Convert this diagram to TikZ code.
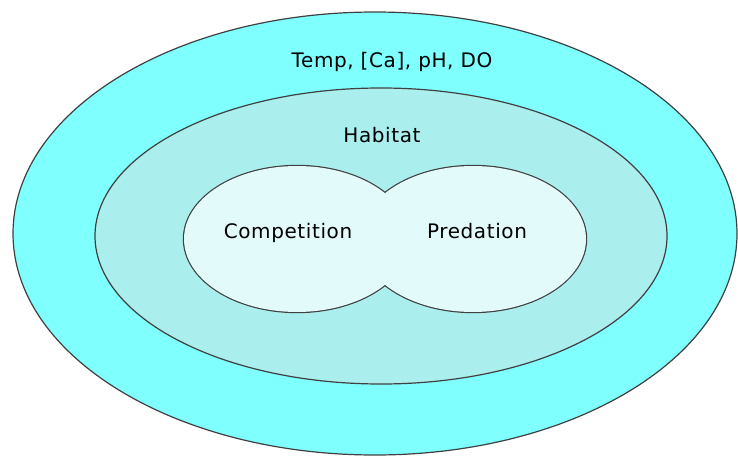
\documentclass[tikz,border=0pt]{standalone}
\usepackage{fontspec}
\setmainfont{DejaVu Sans}[LetterSpace=3]
\usetikzlibrary{positioning, shapes.geometric}
\definecolor{outercyan}{HTML}{80FFFF}
\definecolor{habitatcyan}{HTML}{AAEEEE}
\definecolor{innercyan}{HTML}{E2FAFA}
\definecolor{rimgray}{HTML}{404040}
\tikzset{
    ring_node/.style={ellipse, inner sep=0pt, draw=rimgray, line width=1.2pt},
    blob_half/.style={ellipse, inner sep=0pt, minimum width=226pt, minimum height=146pt},
    label_text/.style={anchor=base, inner sep=0pt, font=\fontsize{20}{22}\selectfont},
}
\begin{document}
\begin{tikzpicture}[x=1pt, y=-1pt]
      \useasboundingbox (0,0) rectangle (738,457);
      %%%%%%%%%%%%%%%
      % Rings       %
      %%%%%%%%%%%%%%%
      \node (climate) [ring_node, fill=outercyan, minimum width=724pt, minimum height=443pt]
          at (375,233.5) {};
      \node (habitat) [ring_node, fill=habitatcyan, minimum width=572pt, minimum height=296pt]
          at (381,236) {};

      % two halves, drawn thick and then filled over
      \node (compblob) [blob_half, draw=rimgray, line width=2.4pt] at (297,239) {};
      \node (predblob) [blob_half, draw=rimgray, line width=2.4pt] at (473,239) {};
      \node [blob_half, fill=innercyan] at (compblob.center) {};
      \node [blob_half, fill=innercyan] at (predblob.center) {};

      %%%%%%%%%%%%%%%
      % Labels      %
      %%%%%%%%%%%%%%%
      \node (climate_lbl) [label_text] at (392,68) {Temp, [Ca], pH, DO};
      \node (habitat_lbl) [label_text] at (382,143) {Habitat};
      \node (comp_lbl) [label_text] at (288,238) {Competition};
      \node (pred_lbl) [label_text] at (477,238) {Predation};
    \end{tikzpicture}
\end{document}
